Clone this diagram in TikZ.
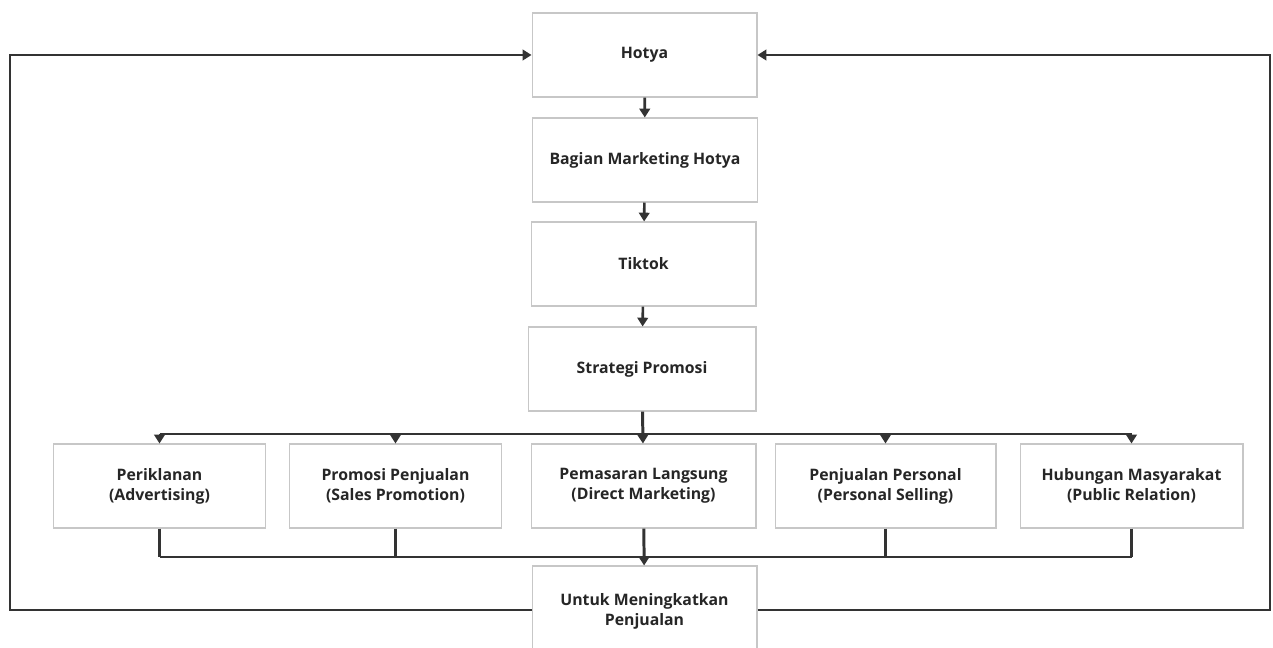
\documentclass[tikz,border=0pt]{standalone}
\usepackage{fontspec}
\setmainfont{Open Sans}
\usetikzlibrary{positioning,calc,arrows.meta}
\tikzset{
  kotak/.style={draw=black!22,line width=0.6pt,fill=white,minimum width=4.5cm,minimum height=1.68cm,
    align=center,font=\bfseries\fontsize{9}{11.5}\selectfont,text=black!85},
  kotakkecil/.style={kotak,minimum width=4.25cm},
  garis/.style={line width=1.1pt,draw=black!80},
  tebal/.style={garis,line width=1.7pt},
  panah/.style={garis,-{Triangle[length=5pt,width=6pt]}}
}
\begin{document}
\begin{tikzpicture}[x=0.02cm,y=-0.02cm]
\useasboundingbox (0,0) rectangle (1273,648);
%vertical chain
\node[kotak] (hotya) at (644.5,55) {Hotya};
\node[kotak] (marketing) at (645,160) {Bagian Marketing Hotya};
\node[kotak] (tiktok) at (643.5,264) {Tiktok};
\node[kotak,minimum width=4.56cm] (strategi) at (642,369) {Strategi Promosi};
%bauran promosi
\node[kotakkecil] (iklan) at (159.5,486) {Periklanan\\(Advertising)};
\node[kotakkecil] (promosi) at (395.5,486) {Promosi Penjualan\\(Sales Promotion)};
\node[kotak] (langsung) at (643.5,486) {Pemasaran Langsung\\(Direct Marketing)};
\node[kotakkecil,minimum width=4.42cm] (personal) at (885.5,486) {Penjualan Personal\\(Personal Selling)};
\node[kotakkecil,minimum width=4.46cm] (humas) at (1131.5,486) {Hubungan Masyarakat\\(Public Relation)};
\node[kotak,minimum height=1.8cm] (untuk) at (644.5,611) {Untuk Meningkatkan\\Penjualan};
%arrows down
\draw[panah,line width=1.5pt] (hotya) -- (marketing);
\draw[panah,line width=1.5pt] (marketing) -- (tiktok);
\draw[panah,line width=1.5pt] (tiktok) -- (strategi);
\coordinate (busatas) at (0,434);
\draw[garis] (iklan.north |- busatas) -- (humas.north |- busatas);
\draw[panah,line width=1.7pt] (strategi) -- (langsung);
\foreach \n in {iklan,promosi,personal,humas}
  \draw[panah] (\n.north |- busatas) -- (\n.north);
\coordinate (busbawah) at (0,557);
\foreach \n in {iklan,promosi,personal,humas}
  \draw[tebal] (\n.south) -- (\n.south |- busbawah);
\draw[garis] (iklan.south |- busbawah) -- (humas.south |- busbawah);
\draw[panah,line width=1.7pt] (langsung) -- (untuk);
%feedback
\draw[panah] (untuk.west |- 0,610) -- (10,610) -- (10,55) -- (hotya.west);
\draw[panah] (untuk.east |- 0,610) -- (1270,610) -- (1270,55) -- (hotya.east);
\end{tikzpicture}
\end{document}
